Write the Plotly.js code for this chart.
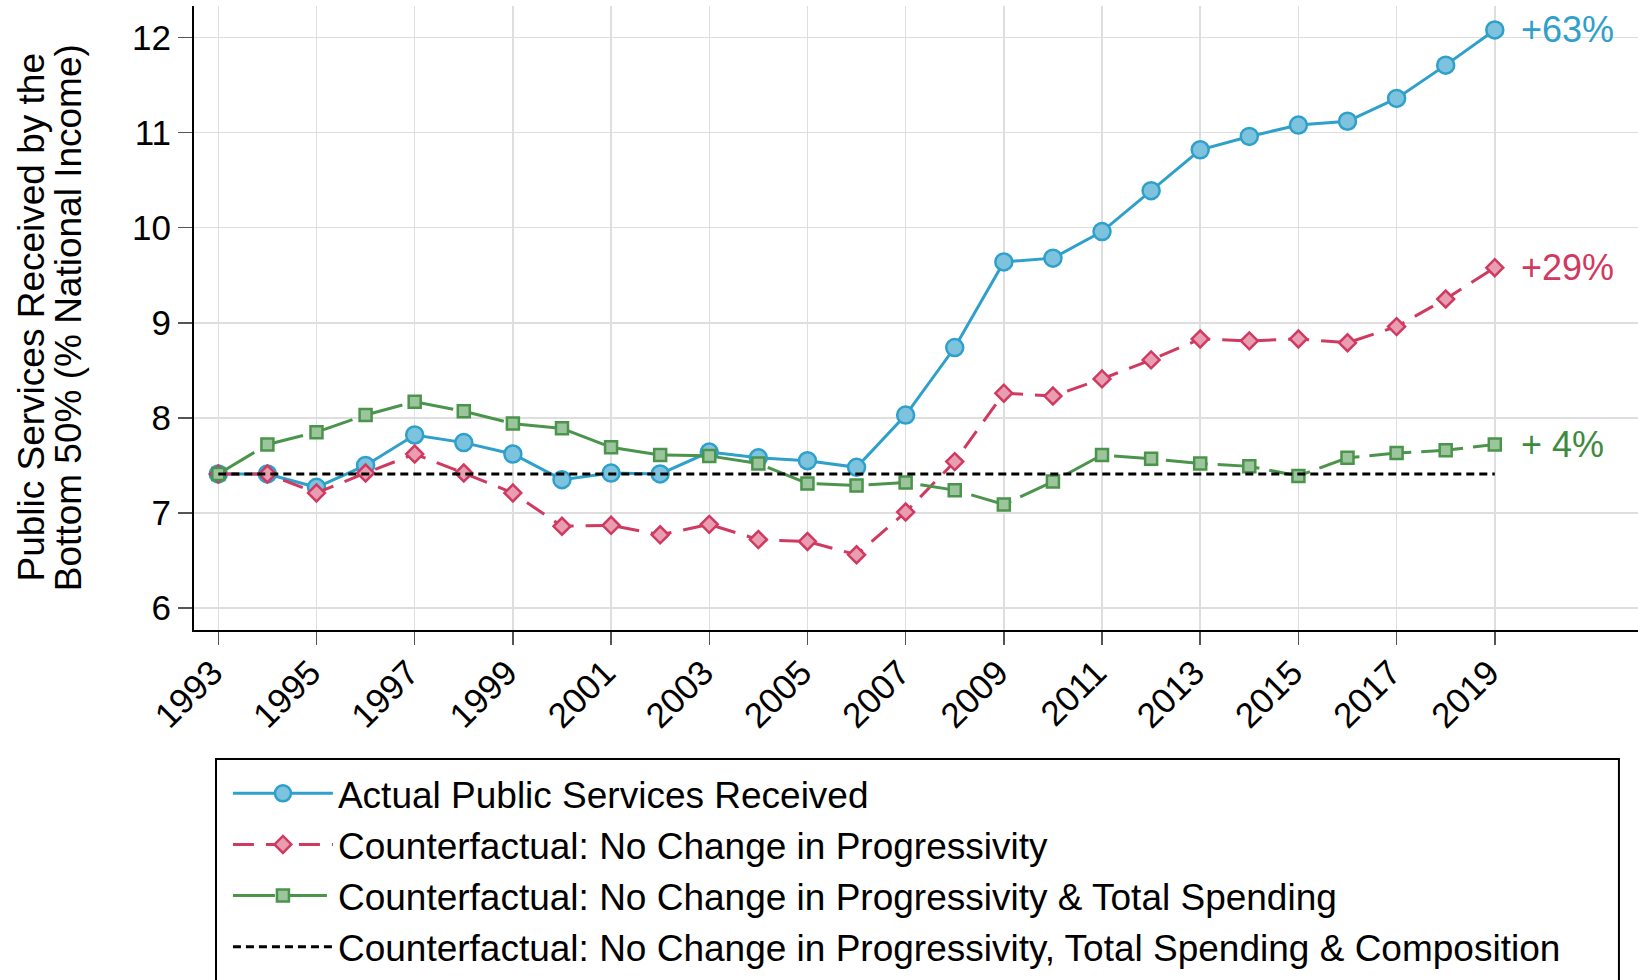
<!DOCTYPE html>
<html>
<head>
<meta charset="utf-8">
<script src="https://cdn.plot.ly/plotly-3.0.1.min.js"></script>
<style>html,body{margin:0;padding:0;background:#fff;}#chart{width:1638px;height:980px;}</style>
</head>
<body>
<div id="chart"></div>
<script>
// ---- data ----
const years = [1993,1994,1995,1996,1997,1998,1999,2000,2001,2002,2003,2004,2005,2006,2007,2008,2009,2010,2011,2012,2013,2014,2015,2016,2017,2018,2019];
const actual = [7.41,7.41,7.27,7.50,7.82,7.74,7.62,7.35,7.42,7.41,7.64,7.58,7.55,7.48,8.03,8.74,9.64,9.68,9.96,10.39,10.82,10.96,11.08,11.12,11.36,11.71,12.08];
const noProg = [7.41,7.41,7.21,7.42,7.62,7.42,7.21,6.86,6.87,6.77,6.88,6.72,6.70,6.56,7.01,7.54,8.26,8.23,8.41,8.61,8.83,8.81,8.83,8.79,8.96,9.25,9.58];
const noProgSpend = [7.41,7.72,7.85,8.03,8.17,8.07,7.94,7.89,7.69,7.61,7.60,7.52,7.31,7.29,7.32,7.24,7.09,7.33,7.61,7.57,7.52,7.49,7.39,7.58,7.63,7.66,7.72];
const noProgSpendComp = [7.41,7.41,7.41,7.41,7.41,7.41,7.41,7.41,7.41,7.41,7.41,7.41,7.41,7.41,7.41,7.41,7.41,7.41,7.41,7.41,7.41,7.41,7.41,7.41,7.41,7.41,7.41];
const seriesNames = [
  "Actual Public Services Received",
  "Counterfactual: No Change in Progressivity",
  "Counterfactual: No Change in Progressivity & Total Spending",
  "Counterfactual: No Change in Progressivity, Total Spending & Composition"
];
const xTickVals = [1993,1995,1997,1999,2001,2003,2005,2007,2009,2011,2013,2015,2017,2019];
const xTickText = ["1993","1995","1997","1999","2001","2003","2005","2007","2009","2011","2013","2015","2017","2019"];
const yTickVals = [6,7,8,9,10,11,12];
const yTickText = ["6","7","8","9","10","11","12"];
const endLabels = ["+63%","+29%","+ 4%"];
const yTitleLines = ["Public Services Received by the", "Bottom 50% (% National Income)"];

// ---- styles ----
const FONT = "Liberation Sans, Arial, Helvetica, sans-serif";
const BLUE = "#2ea0cb", BLUE_FILL = "#7dc3de";
const RED = "#d03a61", RED_FILL = "#e99db0";
const GREEN = "#4b944b", GREEN_FILL = "#9dc59d";

const traces = [
  {x: years, y: actual, name: seriesNames[0], type: "scatter", mode: "lines+markers",
   line: {color: BLUE, width: 3},
   marker: {symbol: "circle", size: 17, color: BLUE_FILL, line: {color: BLUE, width: 2.5}}},
  {x: years, y: noProg, name: seriesNames[1], type: "scatter", mode: "lines+markers",
   line: {color: RED, width: 3, dash: "21px,12px"},
   marker: {symbol: "diamond", size: 13, color: RED_FILL, line: {color: RED, width: 2.5}}},
  {x: years, y: noProgSpend, name: seriesNames[2], type: "scatter", mode: "lines+markers",
   line: {color: GREEN, width: 3, dash: "42px,10px"},
   marker: {symbol: "square", size: 12, color: GREEN_FILL, line: {color: GREEN, width: 2.5}}},
  {x: years, y: noProgSpendComp, name: seriesNames[3], type: "scatter", mode: "lines",
   line: {color: "#000", width: 3, dash: "8px,5px"}}
];

const last = years.length - 1;
const annColors = [BLUE, RED, "#3d8b3d"];
const annY = [actual[last], noProg[last], noProgSpend[last]];
const annotations = endLabels.map((t, i) => ({
  x: years[last] + 0.5, y: annY[i], xref: "x", yref: "y",
  text: t, showarrow: false, xanchor: "left", yanchor: "middle",
  font: {family: FONT, size: 36, color: annColors[i]}
}));
// y-axis title, two lines
const titleX = [-0.1127, -0.0873];
yTitleLines.forEach((t, i) => annotations.push({
  x: titleX[i], y: 0.5012, xref: "paper", yref: "paper",
  text: t, showarrow: false, textangle: -90, xanchor: "center", yanchor: "middle",
  font: {family: FONT, size: 37, color: "#000"}
}));

const layout = {
  width: 1638, height: 980,
  margin: {l: 194, r: 0, t: 6, b: 350, pad: 0},
  paper_bgcolor: "#fff", plot_bgcolor: "#fff",
  font: {family: FONT, color: "#000"},
  showlegend: true,
  xaxis: {
    range: [1992.505, 2021.917], tickmode: "array", tickvals: xTickVals, ticktext: xTickText,
    tickangle: -45, ticks: "outside", ticklen: 13, tickwidth: 1.5, tickcolor: "#555",
    ticklabelshift: -6, ticklabelstandoff: -7,
    showline: true, linecolor: "#000", linewidth: 2, mirror: false,
    showgrid: true, gridcolor: "#dedede", gridwidth: 1.5, zeroline: false,
    tickfont: {family: FONT, size: 35, color: "#000"}
  },
  yaxis: {
    range: [5.769, 12.332], tickmode: "array", tickvals: yTickVals, ticktext: yTickText,
    ticks: "outside", ticklen: 14, tickwidth: 1.5, tickcolor: "#555",
    showline: true, linecolor: "#000", linewidth: 2,
    showgrid: true, gridcolor: "#dedede", gridwidth: 1.5, zeroline: false,
    tickfont: {family: FONT, size: 35, color: "#000"},
    automargin: false
  },
  legend: {
    x: 0.0235, y: -0.2128, xanchor: "left", yanchor: "top",
    bgcolor: "rgba(0,0,0,0)", borderwidth: 0,
    font: {family: FONT, size: 37, color: "#000"},
    itemwidth: 100, tracegroupgap: 0
  },
  shapes: [{
    type: "rect", xref: "paper", yref: "paper",
    x0: 0.01524, x1: 0.9868, y0: -0.2066, y1: -0.62,
    line: {color: "#000", width: 2}, fillcolor: "rgba(0,0,0,0)"
  }],
  annotations: annotations
};

Plotly.newPlot("chart", traces, layout, {displayModeBar: false, staticPlot: true});
</script>
</body>
</html>
